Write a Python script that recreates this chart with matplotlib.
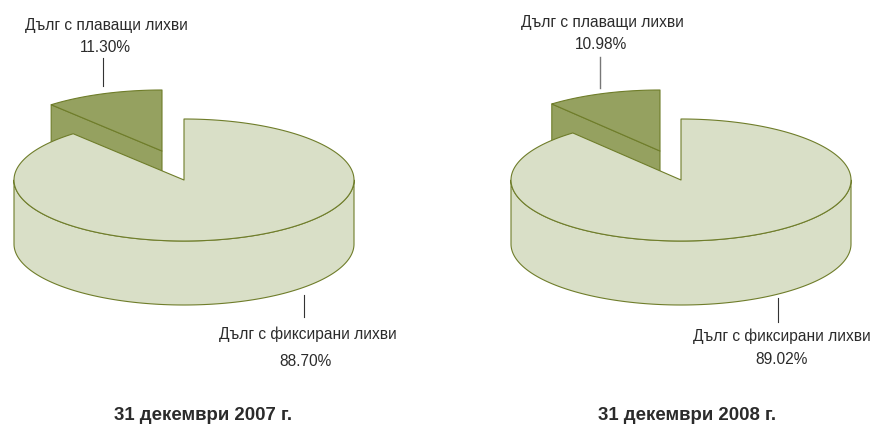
import numpy as np
import matplotlib
matplotlib.use('Agg')
import matplotlib.pyplot as plt
from matplotlib.patches import Polygon

# Shares in percent
floating_share = [11.30, 10.98]
fixed_share = [88.70, 89.02]
floating_label = 'Дълг с плаващи лихви'
fixed_label = 'Дълг с фиксирани лихви'
dates = ['31 декември 2007 г.', '31 декември 2008 г.']

plt.rcParams['font.family'] = ['Liberation Sans Narrow', 'Liberation Sans', 'DejaVu Sans']

LIGHT = '#d9dfc7'
DARK = '#95a160'
EDGE = '#6f7d2a'
TEXT = '#2b2b2b'
RX, RY, DEPTH = 170, 61, 64


def ellipse(cx, cy, a0, a1, n=120):
    # angles clockwise from 12 o'clock, pixel coords with y down
    a = np.radians(np.linspace(a0, a1, n))
    return np.column_stack([cx + RX * np.sin(a), cy - RY * np.cos(a)])


def poly(ax, pts, color, z):
    ax.add_patch(Polygon(pts, closed=True, fc=color, ec=EDGE, lw=0.8, zorder=z, joinstyle='round'))


def draw_pie(ax, cx, cy, apex_x, apex_y, share):
    sweep = share / 100 * 360
    # small slice, pulled out from the pie
    arc = ellipse(apex_x, apex_y, -sweep, 0)
    down = np.array([0, DEPTH])
    left = arc[0]
    apex = np.array([apex_x, apex_y])
    poly(ax, [left, apex, apex + down, left + down], DARK, 1)
    poly(ax, np.vstack([arc, [apex]]), DARK, 2)

    # big slice
    top = ellipse(cx, cy, 0, 360 - sweep, 300)
    a0 = ellipse(cx, cy, 90, 270, 200)
    poly(ax, np.vstack([a0, (a0 + down)[::-1]]), LIGHT, 3)
    poly(ax, np.vstack([top, [[cx, cy]]]), LIGHT, 4)


fig = plt.figure(figsize=(8.74, 4.25), dpi=100)
ax = fig.add_axes([0, 0, 1, 1])
ax.set_xlim(0, 874)
ax.set_ylim(425, 0)
ax.axis('off')

draw_pie(ax, 184, 180, 162, 151, floating_share[0])
draw_pie(ax, 681, 180, 660, 151, floating_share[1])

# leader lines
ax.plot([103, 103], [58, 86], color='#333333', lw=0.8)
ax.plot([304, 304], [295, 317], color='#333333', lw=0.8)
ax.plot([600, 600], [57, 88], color='#777777', lw=1.0)
ax.plot([778, 778], [298, 322], color='#333333', lw=0.8)

fs = 11.2
ax.text(106, 25, floating_label, ha='center', va='center', fontsize=fs, color=TEXT)
ax.text(105, 47, f'{floating_share[0]:.2f}%', ha='center', va='center', fontsize=fs, color=TEXT)
ax.text(307.5, 334, fixed_label, ha='center', va='center', fontsize=fs, color=TEXT)
ax.text(306, 361, f'{fixed_share[0]:.2f}%', ha='center', va='center', fontsize=fs, color=TEXT)
ax.text(602.5, 22, floating_label, ha='center', va='center', fontsize=fs, color=TEXT)
ax.text(601, 44, f'{floating_share[1]:.2f}%', ha='center', va='center', fontsize=fs, color=TEXT)
ax.text(782, 336, fixed_label, ha='center', va='center', fontsize=fs, color=TEXT)
ax.text(782, 359, f'{fixed_share[1]:.2f}%', ha='center', va='center', fontsize=fs, color=TEXT)
ax.text(203, 415, dates[0], ha='center', va='center', fontsize=13.4, fontweight='bold', color=TEXT)
ax.text(687, 415, dates[1], ha='center', va='center', fontsize=13.4, fontweight='bold', color=TEXT)

fig.savefig('out.png', dpi=100)
